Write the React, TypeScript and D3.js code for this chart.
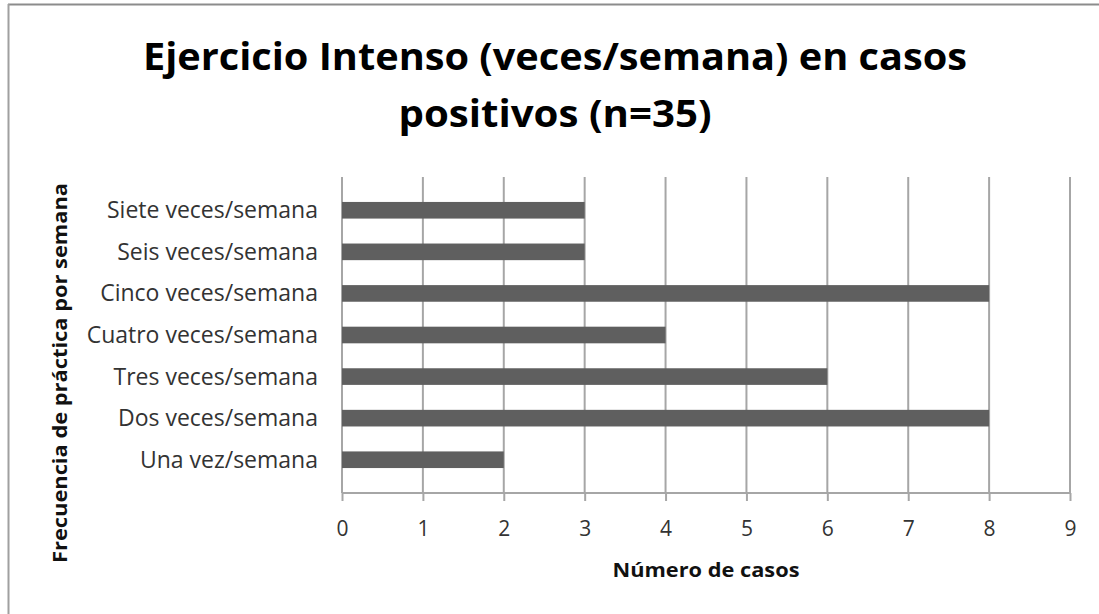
import React, {useEffect, useRef} from "react";
import * as d3 from "d3";

const categories = [
    "Siete veces/semana",
    "Seis veces/semana",
    "Cinco veces/semana",
    "Cuatro veces/semana",
    "Tres veces/semana",
    "Dos veces/semana",
    "Una vez/semana",
];
const casos = [3, 3, 8, 4, 6, 8, 2];
const xTicks = [0, 1, 2, 3, 4, 5, 6, 7, 8, 9];
const titleLines = ["Ejercicio Intenso (veces/semana) en casos", "positivos (n=35)"];
const xTitle = "Número de casos";
const yTitle = "Frecuencia de práctica por semana";

const width = 1099;
const height = 614;
const margin = {top: 177, right: 29, bottom: 121, left: 342};
const font = "'Open Sans', Lato, sans-serif";

const App = () => {
    const axisRef = useRef(null);

    const x = d3.scaleLinear().domain([0, 9]).range([margin.left, width - margin.right]);
    const y = d3.scaleBand().domain(categories).range([margin.top, height - margin.bottom]).padding(0.6);
    const y0 = height - margin.bottom;

    useEffect(() => {
        document.body.style.margin = "0";
        const g = d3.select(axisRef.current);
        g.selectAll("*").remove();
        g.attr("transform", `translate(0,${y0})`)
            .call(d3.axisBottom(x).tickValues(xTicks).tickSize(8).tickFormat(d3.format("d")));
        g.select(".domain").attr("stroke", "#a6a6a6").attr("stroke-width", 2).attr("d", `M${x(0)},0H${x(9)}`);
        g.selectAll(".tick line").attr("stroke", "#a6a6a6").attr("stroke-width", 2);
        g.selectAll(".tick text")
            .attr("font-family", font)
            .attr("font-size", 21)
            .attr("fill", "#333")
            .attr("dy", "0.35em")
            .attr("y", 36);
    }, []);

    return (
        <svg width={width} height={height} style={{display: "block", background: "#fff"}}>
            <line x1={8} y1={4.5} x2={width} y2={4.5} stroke="#8c8c8c" strokeWidth={2}/>
            <line x1={8.5} y1={4} x2={8.5} y2={height} stroke="#a0a0a0" strokeWidth={2}/>

            {titleLines.map((t, i) => (
                <text key={t} x={555} y={70 + i * 57} textAnchor="middle" fontFamily={font}
                      fontWeight="bold" fontSize={38} fill="#000"
                      textLength={i === 0 ? 824 : 313} lengthAdjust="spacingAndGlyphs">{t}</text>
            ))}

            {xTicks.map(t => (
                <line key={t} x1={x(t)} x2={x(t)} y1={margin.top} y2={y0} stroke="#a6a6a6" strokeWidth={2}/>
            ))}

            {categories.map((c, i) => (
                <rect key={c} x={x(0)} y={y(c)} width={x(casos[i]) - x(0)} height={y.bandwidth()} fill="#5f5f5f"/>
            ))}

            {categories.map(c => (
                <text key={c} x={318} y={(y(c) || 0) + y.bandwidth() / 2} dy="0.35em" textAnchor="end"
                      fontFamily={font} fontSize={23} fill="#333">{c}</text>
            ))}

            <g ref={axisRef}/>

            <text x={706} y={577} textAnchor="middle" fontFamily={font} fontWeight="bold" fontSize={19}
                  fill="#111" textLength={187} lengthAdjust="spacingAndGlyphs">{xTitle}</text>
            <text transform="translate(67,373) rotate(-90)" textAnchor="middle" fontFamily={font}
                  fontWeight="bold" fontSize={20} fill="#111" textLength={380}
                  lengthAdjust="spacingAndGlyphs">{yTitle}</text>
        </svg>
    );
};

export default App;
